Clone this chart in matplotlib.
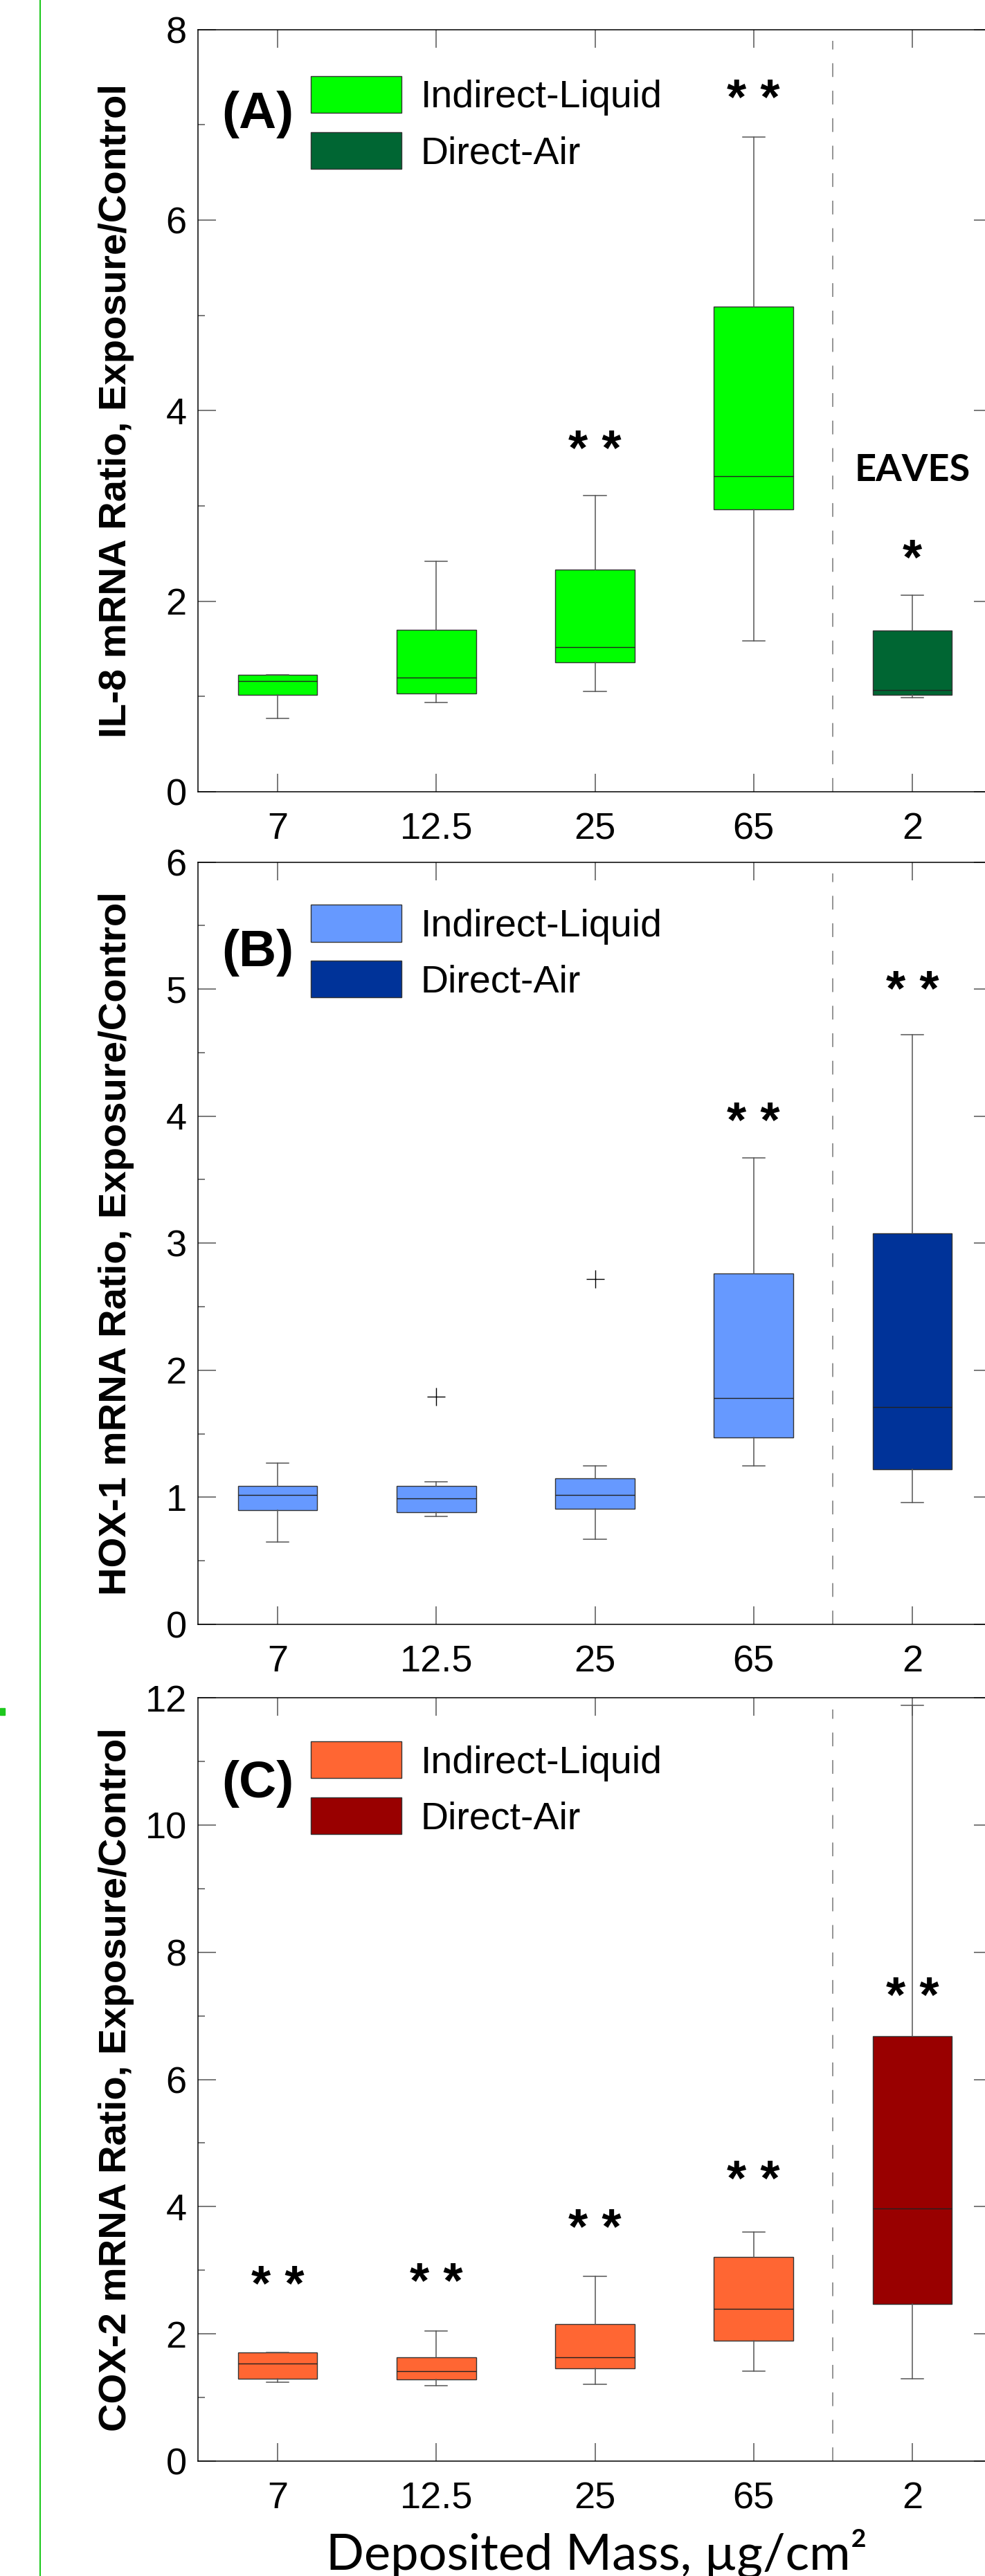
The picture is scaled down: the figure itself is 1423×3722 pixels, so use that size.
import numpy as np
import matplotlib
matplotlib.use("Agg")
from matplotlib import pyplot as plt
from matplotlib.patches import Patch, Rectangle
from matplotlib.lines import Line2D
from matplotlib.ticker import MultipleLocator
from matplotlib.transforms import offset_copy

plt.rcParams['font.family'] = ['Liberation Sans', 'DejaVu Sans']

categories = ['7', '12.5', '25', '65', '2']

# (A) IL-8
il8_q1 = [1.02, 1.03, 1.36, 2.96, 1.02]
il8_med = [1.16, 1.20, 1.52, 3.31, 1.07]
il8_q3 = [1.23, 1.70, 2.33, 5.09, 1.69]
il8_lo = [0.77, 0.94, 1.05, 1.58, 0.99]
il8_hi = [1.23, 2.42, 3.11, 6.87, 2.06]
il8_fliers = [[], [], [], [], []]
il8_stars = ['', '', '* *', '* *', '*']
il8_star_y = [0, 0, 3.71, 7.39, 2.57]

# (B) HOX-1
hox1_q1 = [0.90, 0.88, 0.91, 1.47, 1.22]
hox1_med = [1.02, 0.99, 1.02, 1.78, 1.71]
hox1_q3 = [1.09, 1.09, 1.15, 2.76, 3.08]
hox1_lo = [0.65, 0.85, 0.67, 1.25, 0.96]
hox1_hi = [1.27, 1.12, 1.25, 3.67, 4.64]
hox1_fliers = [[], [1.79], [2.72], [], []]
hox1_stars = ['', '', '', '* *', '* *']
hox1_star_y = [0, 0, 0, 4.05, 5.08]

# (C) COX-2
cox2_q1 = [1.30, 1.28, 1.46, 1.89, 2.47]
cox2_med = [1.53, 1.41, 1.63, 2.39, 3.97]
cox2_q3 = [1.71, 1.63, 2.15, 3.21, 6.68]
cox2_lo = [1.24, 1.19, 1.21, 1.41, 1.30]
cox2_hi = [1.71, 2.05, 2.90, 3.60, 11.88]
cox2_fliers = [[], [], [], [], []]
cox2_stars = ['* *', '* *', '* *', '* *', '* *']
cox2_star_y = [2.95, 2.99, 3.84, 4.60, 7.49]

panels = [
    dict(tag="(A)", ylabel="IL-8 mRNA Ratio, Exposure/Control", ymax=8, major=2, minor=1,
         q1=il8_q1, med=il8_med, q3=il8_q3, lo=il8_lo, hi=il8_hi, fliers=il8_fliers,
         stars=il8_stars, star_y=il8_star_y, light="#00ff00", dark="#006633",
         bottom=0.69264, height=0.29594, leg_y=0.939, tag_y=0.888),
    dict(tag="(B)", ylabel="HOX-1 mRNA Ratio, Exposure/Control", ymax=6, major=1, minor=0.5,
         q1=hox1_q1, med=hox1_med, q3=hox1_q3, lo=hox1_lo, hi=hox1_hi, fliers=hox1_fliers,
         stars=hox1_stars, star_y=hox1_star_y, light="#6699ff", dark="#003399",
         bottom=0.36942, height=0.29594, leg_y=0.944, tag_y=0.881),
    dict(tag="(C)", ylabel="COX-2 mRNA Ratio, Exposure/Control", ymax=12, major=2, minor=1,
         q1=cox2_q1, med=cox2_med, q3=cox2_q3, lo=cox2_lo, hi=cox2_hi, fliers=cox2_fliers,
         stars=cox2_stars, star_y=cox2_star_y, light="#ff6633", dark="#990000",
         bottom=0.04460, height=0.29630, leg_y=0.943, tag_y=0.887),
]

fig = plt.figure(figsize=(14.23, 37.22), dpi=100)
positions = np.arange(1, len(categories) + 1)

for p in panels:
    ax = fig.add_axes([0.20126, p["bottom"], 0.8055, p["height"]])
    stats = []
    for i in range(len(categories)):
        stats.append(dict(q1=p["q1"][i], med=p["med"][i], q3=p["q3"][i],
                          whislo=p["lo"][i], whishi=p["hi"][i],
                          fliers=p["fliers"][i], label=categories[i]))
    bp = ax.bxp(stats, positions=positions, widths=0.5, capwidths=0.14,
                patch_artist=True, manage_ticks=False,
                boxprops=dict(edgecolor="#333333", linewidth=1.0),
                whiskerprops=dict(color="#555555", linewidth=1.1),
                capprops=dict(color="#555555", linewidth=1.1),
                medianprops=dict(color="#222222", linewidth=1.0),
                flierprops=dict(marker="+", markersize=19, markeredgecolor="black",
                                markeredgewidth=1.0))
    for i, box in enumerate(bp["boxes"]):
        box.set_facecolor(p["dark"] if i == len(categories) - 1 else p["light"])

    ax.axvline(4.5, ymin=0, ymax=0.985, color="#777777", lw=1.1, dashes=(13, 13))

    star_tf = offset_copy(ax.transData, fig=fig, x=0, y=-20, units="dots")
    for i, s in enumerate(p["stars"]):
        if s:
            ax.text(positions[i], p["star_y"][i], s, transform=star_tf, ha="center",
                    va="center", fontsize=52, fontweight="bold")

    ax.set_xlim(0.5, 5.5)
    ax.set_ylim(0, p["ymax"])
    ax.set_xticks(positions)
    ax.set_xticklabels(categories)
    ax.yaxis.set_major_locator(MultipleLocator(p["major"]))
    ax.yaxis.set_minor_locator(MultipleLocator(p["minor"]))
    ax.tick_params(axis="both", which="both", direction="in", top=True, right=True,
                   color="#555555", width=1.1, labelsize=39)
    ax.tick_params(axis="both", which="major", length=19)
    ax.tick_params(axis="y", which="minor", length=7)
    ax.tick_params(axis="x", which="major", pad=21)
    ax.tick_params(axis="y", which="major", pad=12)
    for sp in ax.spines.values():
        sp.set_linewidth(1.1)

    ax.set_ylabel(p["ylabel"], fontsize=40.5, fontweight="bold")
    ax.yaxis.set_label_coords(-0.0803, 0.5)

    handles = [Patch(facecolor=p["light"], edgecolor="#333333", linewidth=1.0),
               Patch(facecolor=p["dark"], edgecolor="#333333", linewidth=1.0)]
    ax.legend(handles, ["Indirect-Liquid", "Direct-Air"], loc="upper left",
              bbox_to_anchor=(0.142, p["leg_y"]), frameon=False, borderpad=0,
              borderaxespad=0, handlelength=2.36, handleheight=1.10,
              handletextpad=0.49, labelspacing=0.42, fontsize=40)

    ax.text(0.075, p["tag_y"], p["tag"], transform=ax.transAxes, ha="center",
            va="center", fontsize=54, fontweight="bold")

    if p["tag"] == "(A)":
        ax.text(5, 3.37, "EAVES", ha="center", va="center", fontsize=39,
                fontweight="bold", family=["Lato", "DejaVu Sans"])

fig.text(0.6058, 0.0024, "Deposited Mass, \u00b5g/cm\u00b2", ha="center", va="baseline",
         fontsize=52, family=["Lato", "DejaVu Sans"])

# green page marks at the left edge
fig.add_artist(Line2D([58 / 1423, 58 / 1423], [0, 1], color="#1ec81e", lw=1.5,
                      transform=fig.transFigure))
fig.add_artist(Rectangle((0, 1 - 2478 / 3722), 7 / 1423, 10 / 3722, color="#1ec81e",
                         transform=fig.transFigure))

fig.savefig("out.png", dpi=100)
